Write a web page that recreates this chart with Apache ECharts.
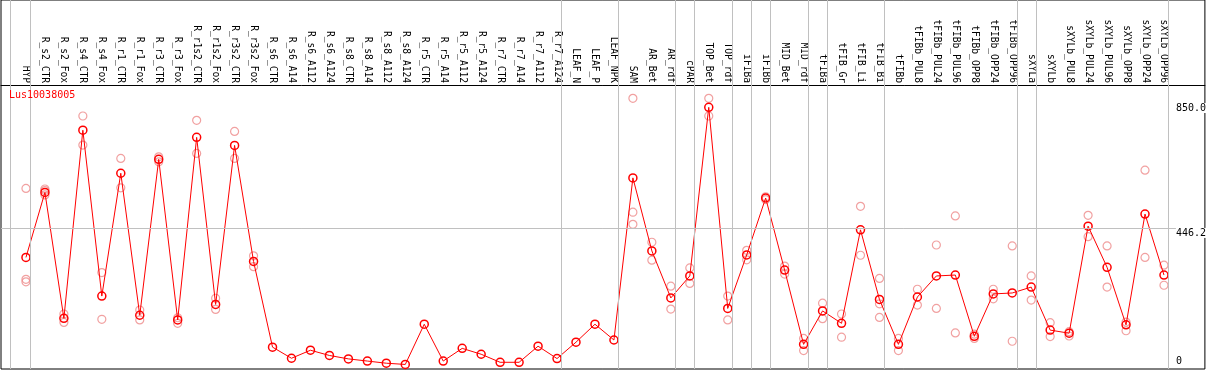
<!DOCTYPE html>
<html>
<head>
<meta charset="utf-8">
<script src="https://cdn.jsdelivr.net/npm/echarts@6/dist/echarts.min.js"></script>
<style>html,body{margin:0;padding:0;background:#fff}#c{width:1209px;height:370px}</style>
</head>
<body>
<div id="c"></div>
<script>
const categories = ["HYP","R_s2_CTR","R_s2_Fox","R_s4_CTR","R_s4_Fox","R_r1_CTR","R_r1_Fox","R_r3_CTR","R_r3_Fox","R_r1s2_CTR","R_r1s2_Fox","R_r3s2_CTR","R_r3s2_Fox","R_s6_CTR","R_s6_A14","R_s6_A112","R_s6_A124","R_s8_CTR","R_s8_A14","R_s8_A112","R_s8_A124","R_r5_CTR","R_r5_A14","R_r5_A112","R_r5_A124","R_r7_CTR","R_r7_A14","R_r7_A112","R_r7_A124","LEAF_N","LEAF_P","LEAF_NPK","SAM","AR_Bet","AR_rdf","cPAR","TOP_Bet","TOP_rdf","iFIBa","iFIBb","MID_Bet","MID_rdf","tFIBa","tFIB_Gr","tFIB_Li","tFIB_Bi","tFIBb","tFIBb_PUL8","tFIBb_PUL24","tFIBb_PUL96","tFIBb_OPP8","tFIBb_OPP24","tFIBb_OPP96","sXYLa","sXYLb","sXYLb_PUL8","sXYLb_PUL24","sXYLb_PUL96","sXYLb_OPP8","sXYLb_OPP24","sXYLb_OPP96"];

const seriesName = "Lus10038005";

const meanValues = [351,561,154,762,226,623,164,668,149,739,199,713,338,61,25,51,34,23,16,9,5,135,16,57,38,12,12,64,24,77,135,84,608,372,220,291,836,186,359,543,310,70,178,138,440,215,70,223,291,294,96,233,236,255,116,106,452,319,133,491,294];

const repA = [574,572,168,808,302,671,181,676,156,794,219,758,356,null,null,null,null,null,null,null,null,null,null,null,null,null,null,null,null,null,null,null,865,400,258,317,865,226,374,547,323,89,203,168,516,283,89,248,391,485,103,248,388,291,140,111,487,388,142,633,326];
const repB = [280,553,141,714,151,576,149,660,138,687,183,671,321,null,null,null,null,null,null,null,null,null,null,null,null,null,null,null,null,null,null,null,497,342,184,267,808,149,343,538,297,50,153,93,358,201,50,197,186,107,89,217,80,213,95,97,418,255,114,351,261];
const repC = [272,567,null,null,null,null,null,null,null,null,null,null,null,null,null,null,null,null,null,null,null,null,null,null,null,null,null,null,null,null,null,null,458,null,null,null,null,null,null,null,null,null,null,null,null,157,null,null,null,null,null,null,null,null,null,null,null,null,null,null,null];

const yTickLabels = [446.2, 850];
const yZeroLabel = [0];
const groupBreaks = [-0.84, 0.24, 28.24, 31.24, 34.24, 35.24, 37.24, 38.24, 39.24, 41.24, 42.24, 45.24, 52.24, 53.24, 60.24];

// layout constants (pixel mapping of the original plot)
const XMIN = -25/19, XMAX = 1181/19;
const YMIN = -3*850/263, YMAX = 366*850/263;

const MONO = "'DejaVu Sans Mono', monospace";

const repData = [];
[repA, repB, repC].forEach(arr => arr.forEach((v, i) => { if (v != null) repData.push([i, v]); }));

const chart = echarts.init(document.getElementById('c'), null, {renderer: 'canvas'});
chart.setOption({
  animation: false,
  backgroundColor: '#fff',
  title: {
    text: seriesName, left: 9, top: 90, padding: 0,
    textStyle: {color: '#ff0000', fontFamily: MONO, fontSize: 10, fontWeight: 'normal'}
  },
  grid: {left: 1, right: 2, top: 0, bottom: 1, show: true, borderColor: '#000', borderWidth: 1, backgroundColor: 'transparent', containLabel: false},
  xAxis: {
    type: 'value', min: XMIN, max: XMAX, position: 'top', offset: -85,
    axisLine: {show: true, onZero: false, lineStyle: {color: '#000', width: 1}},
    axisTick: {show: false}, splitLine: {show: false},
    axisLabel: {
      customValues: categories.map((c, i) => i),
      rotate: 90, margin: 2,
      formatter: v => categories[Math.round(v)],
      fontFamily: MONO, fontSize: 9.6, color: '#000'
    }
  },
  yAxis: [{
    type: 'value', min: YMIN, max: YMAX, position: 'right', z: 10,
    axisLine: {show: false}, axisTick: {show: false}, splitLine: {show: false},
    axisLabel: {inside: true, margin: 29, align: 'left', verticalAlign: 'top',
      customValues: yTickLabels, formatter: v => v.toFixed(1),
      fontFamily: MONO, fontSize: 10, color: '#000', backgroundColor: '#fff'}
  }, {
    type: 'value', min: YMIN, max: YMAX, position: 'right', z: 10,
    axisLine: {show: false}, axisTick: {show: false}, splitLine: {show: false},
    axisLabel: {inside: true, margin: 29, align: 'left', verticalAlign: 'bottom',
      customValues: yZeroLabel, formatter: v => String(v),
      fontFamily: MONO, fontSize: 10, color: '#000'}
  }],
  series: [{
    type: 'scatter', name: 'replicates', data: repData,
    symbol: 'circle', symbolSize: 8,
    itemStyle: {color: 'rgba(0,0,0,0)', borderColor: '#ee8a8a', borderWidth: 1.2},
    z: 2, silent: true
  }, {
    type: 'line', name: seriesName,
    data: meanValues.map((v, i) => [i, v]),
    symbol: 'circle', symbolSize: 8, showAllSymbol: true,
    lineStyle: {color: '#ff0000', width: 1},
    itemStyle: {color: 'rgba(0,0,0,0)', borderColor: '#ff0000', borderWidth: 1.5},
    z: 3, silent: true,
    markLine: {
      silent: true, symbol: ['none', 'none'], label: {show: false},
      lineStyle: {color: '#c0c0c0', width: 1, type: 'solid'},
      emphasis: {disabled: true},
      data: groupBreaks.map(x => ({xAxis: x})).concat([{yAxis: 446.2}])
    }
  }]
});
</script>
</body>
</html>
